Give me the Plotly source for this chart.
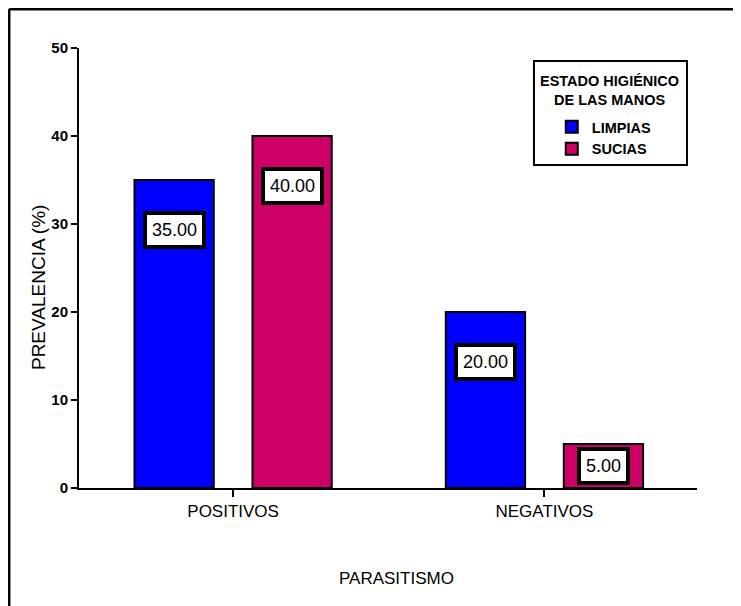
import plotly.graph_objects as go

categories = ["POSITIVOS", "NEGATIVOS"]
limpias = [35.0, 20.0]
sucias = [40.0, 5.0]
series_names = ["LIMPIAS", "SUCIAS"]
y_ticks = [0, 10, 20, 30, 40, 50]
legend_title = "ESTADO HIGIÉNICO<br>DE LAS MANOS"
x_title = "PARASITISMO"
y_title = "PREVALENCIA (%)"

colors = ["#0000FF", "#CC0066"]
FONT = "Liberation Sans, Arial, sans-serif"

fig = go.Figure()
for name, vals, col in zip(series_names, [limpias, sucias], colors):
    fig.add_trace(go.Bar(
        x=categories, y=vals, name=name,
        marker=dict(color=col, line=dict(color="black", width=2)),
    ))

# value labels (white boxes)
slot = 0.379
annotations = []
for vals, off in zip([limpias, sucias], [-slot / 2, slot / 2]):
    for i, v in enumerate(vals):
        annotations.append(dict(
            x=i + off, y=max(v - 5.7, 2.5), xref="x", yref="y",
            text=f"{v:.2f}", showarrow=False,
            font=dict(family=FONT, size=18, color="black"),
            bgcolor="white", bordercolor="black", borderwidth=4, borderpad=5,
        ))

# axis titles and legend title
annotations += [
    dict(x=-0.0663, y=0.4545, xref="paper", yref="paper", text=y_title,
         textangle=-90, showarrow=False, xanchor="center", yanchor="middle",
         font=dict(family=FONT, size=19, color="black")),
    dict(x=0.514, y=-0.2046, xref="paper", yref="paper", text=x_title,
         showarrow=False, xanchor="center", yanchor="middle",
         font=dict(family=FONT, size=17, color="black")),
    dict(x=0.859, y=0.9045, xref="paper", yref="paper", text=legend_title,
         showarrow=False, xanchor="center", yanchor="middle", align="center",
         font=dict(family=FONT, size=14.5, color="black", weight="bold")),
]

fig.update_layout(
    width=741, height=606,
    margin=dict(l=71, r=52, t=40, b=126),
    paper_bgcolor="white", plot_bgcolor="white",
    barmode="group", bargap=0.242, bargroupgap=0.328,
    showlegend=True,
    legend=dict(
        x=0.765, y=0.857, xanchor="left", yanchor="top",
        borderwidth=0, bgcolor="rgba(0,0,0,0)",
        font=dict(family=FONT, size=14.5, color="black", weight="bold"),
        itemsizing="constant", tracegroupgap=0,
    ),
    annotations=annotations,
    xaxis=dict(
        type="category", range=[-0.495, 1.49], automargin=False,
        showline=True, linecolor="black", linewidth=2,
        ticks="outside", ticklen=7, tickwidth=2, tickcolor="black",
        tickfont=dict(family=FONT, size=17, color="black"),
        showgrid=False, zeroline=False,
    ),
    yaxis=dict(
        range=[0, 50], tickvals=y_ticks, automargin=False,
        showline=True, linecolor="black", linewidth=2,
        ticks="outside", ticklen=6, tickwidth=2, tickcolor="black",
        tickfont=dict(family=FONT, size=15, color="black", weight="bold"),
        showgrid=False, zeroline=False,
    ),
    shapes=[
        dict(type="line", xref="paper", yref="paper", x0=-0.1133, x1=-0.1133, y0=1.0886, y1=-0.3,
             line=dict(color="black", width=3)),
        dict(type="line", xref="paper", yref="paper", x0=-0.1133, x1=1.2, y0=1.0886, y1=1.0886,
             line=dict(color="black", width=3)),
        dict(type="rect", xref="paper", yref="paper", x0=0.7362, x1=0.9838, y0=0.7341, y1=0.9705,
             line=dict(color="black", width=2), fillcolor="rgba(0,0,0,0)", layer="below"),
    ],
)

fig.write_html("out.html")
